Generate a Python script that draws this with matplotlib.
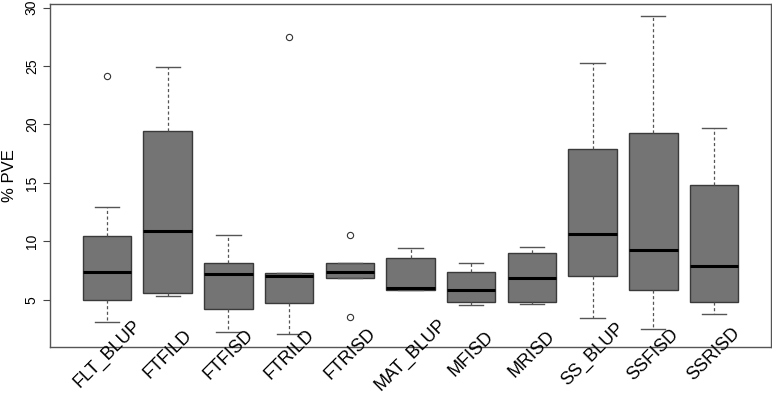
import matplotlib
matplotlib.use("Agg")
import matplotlib.pyplot as plt

plt.rcParams["font.family"] = ["Liberation Sans", "DejaVu Sans"]

# values (% PVE per trait)
traits = ["FLT_BLUP", "FTFILD", "FTFISD", "FTRILD", "FTRISD", "MAT_BLUP",
          "MFISD", "MRISD", "SS_BLUP", "SSFISD", "SSRISD"]
whislo = [3.1, 5.35, 2.25, 2.13, 6.85, 5.88, 4.6, 4.66, 3.5, 2.52, 3.83]
q1 = [5.0, 5.57, 4.26, 4.74, 6.85, 5.88, 4.83, 4.86, 7.05, 5.88, 4.83]
med = [7.4, 10.9, 7.25, 7.03, 7.42, 6.0, 5.88, 6.85, 10.64, 9.25, 7.93]
q3 = [10.47, 19.44, 8.14, 7.28, 8.14, 8.59, 7.37, 9.04, 17.9, 19.25, 14.86]
whishi = [12.95, 24.94, 10.53, 7.28, 8.14, 9.47, 8.14, 9.53, 25.23, 29.3, 19.7]
outliers = [[24.17], [], [], [27.48], [10.56, 3.52], [], [], [], [], [], []]

stats = []
for i in range(len(traits)):
    stats.append({"whislo": whislo[i], "q1": q1[i], "med": med[i], "q3": q3[i],
                  "whishi": whishi[i], "fliers": outliers[i]})

fig = plt.figure(figsize=(7.72, 3.95), dpi=100)
ax = fig.add_axes([50 / 772, 1 - 347 / 395, 721 / 772, 343 / 395])

pos = list(range(1, len(traits) + 1))
ax.bxp(stats, positions=pos, widths=0.8, patch_artist=True, showfliers=True,
       boxprops=dict(facecolor="#747474", edgecolor="#3a3a3a", linewidth=1.0),
       medianprops=dict(color="black", linewidth=2.2, solid_capstyle="butt"),
       whiskerprops=dict(color="#555555", linestyle=(0, (2.5, 2)), linewidth=0.9),
       capprops=dict(color="#555555", linewidth=1.0),
       capwidths=0.4,
       flierprops=dict(marker="o", markersize=4.5, markerfacecolor="none",
                       markeredgecolor="#333333", markeredgewidth=0.8))

ax.set_xlim(0.06, 11.94)
ax.set_ylim(0.98, 30.3)
ax.set_yticks([5, 10, 15, 20, 25, 30])
ax.set_yticklabels(["5", "10", "15", "20", "25", "30"], rotation=90, va="center", fontsize=10)
ax.tick_params(axis="y", length=5, width=0.8, color="#444444", pad=3)
ax.set_xticks([])
for s in ax.spines.values():
    s.set_color("#555555")
    s.set_linewidth(1.0)
ax.set_ylabel("% PVE", fontsize=12, labelpad=6)

# trait names sit centred under each box, turned 45 degrees
for i, name in enumerate(traits):
    ax.text(pos[i], 0.35, name, rotation=45, rotation_mode="anchor",
            ha="center", va="center", fontsize=13, clip_on=False)

fig.savefig("out.png", dpi=100)
